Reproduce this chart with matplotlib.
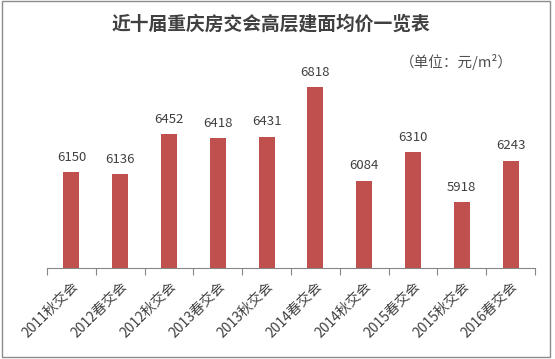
import matplotlib.pyplot as plt
from matplotlib.patches import Rectangle

plt.rcParams['font.family'] = ['Noto Sans CJK SC', 'DejaVu Sans']

# data
categories = ['2011秋交会', '2012春交会', '2012秋交会', '2013春交会', '2013秋交会',
              '2014春交会', '2014秋交会', '2015春交会', '2015秋交会', '2016春交会']
prices = [6150, 6136, 6452, 6418, 6431, 6818, 6084, 6310, 5918, 6243]

W, H = 555, 359
fig = plt.figure(figsize=(W / 100, H / 100), dpi=100)
fig.patch.set_facecolor('white')

# chart frame
fig.patches.append(Rectangle((2 / W, 1 - 357 / H), 548 / W, 356 / H,
                             transform=fig.transFigure, fill=False,
                             edgecolor='#8c8c8c', linewidth=1.0))

ax = fig.add_axes([47 / W, 1 - 268 / H, 488 / W, (268 - 64) / H])
x = range(len(categories))
ax.bar(x, prices, width=0.33, color='#C0504D', zorder=2)
ax.set_ylim(5400, 7000)
ax.set_xlim(-0.5, len(categories) - 0.5)

for xi, v in zip(x, prices):
    ax.annotate(str(v), (xi, v), xytext=(0, 6), textcoords='offset points',
                ha='center', va='bottom', fontsize=9.5, color='#404040')

for s in ['top', 'right', 'left']:
    ax.spines[s].set_visible(False)
ax.spines['bottom'].set_color('#868686')
ax.set_yticks([])

# category ticks at boundaries
ax.set_xticks([i - 0.5 for i in range(len(categories) + 1)])
ax.set_xticklabels([])
ax.tick_params(axis='x', which='major', length=5, color='#868686', direction='out')
ax.set_xticks(list(x), minor=True)
ax.set_xticklabels(categories, minor=True, rotation=45, ha='right',
                   rotation_mode='anchor', fontsize=10, color='#404040')
ax.tick_params(axis='x', which='minor', length=0, pad=8)

fig.text(271 / W, 1 - 24 / H, '近十届重庆房交会高层建面均价一览表',
         ha='center', va='center', fontsize=13.5, fontweight='bold', color='#404040')
fig.text(456 / W, 1 - 62 / H, '（单位：元/m²）', ha='center', va='center',
         fontsize=10.5, color='#505050')

fig.savefig('out.png', dpi=100, facecolor='white')
